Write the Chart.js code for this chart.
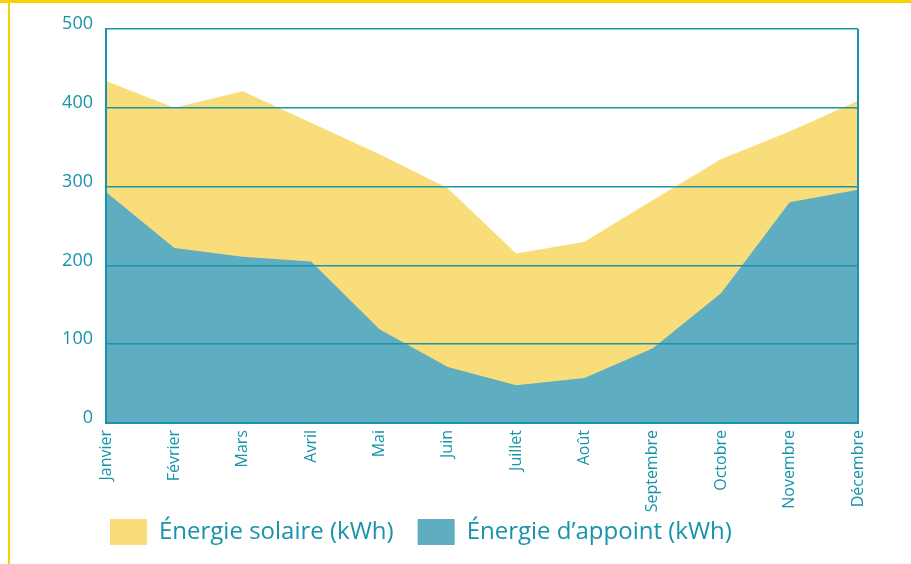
<!DOCTYPE html>
<html>
<head>
<meta charset="utf-8">
<script src="https://cdn.jsdelivr.net/npm/chart.js@4"></script>
<style>
  html, body { margin: 0; padding: 0; background: #fff; }
  #wrap { position: relative; width: 911px; height: 564px; overflow: hidden; }
  #c { position: absolute; left: 0; top: 0; }
  .frameTop { position: absolute; left: 0; top: 0; width: 911px; height: 3px; background: #F6D200; }
  .frameLeft { position: absolute; left: 8px; top: 0; width: 2px; height: 564px; background: #F6D200; }
</style>
</head>
<body>
<div id="wrap">
  <canvas id="c" width="911" height="564"></canvas>
  <div class="frameTop"></div>
  <div class="frameLeft"></div>
</div>
<script>
const months = ["Janvier","Février","Mars","Avril","Mai","Juin","Juillet","Août","Septembre","Octobre","Novembre","Décembre"];
const solaire = [434, 400, 421, 381, 341, 298, 215, 230, 283, 335, 370, 409];
const appoint = [293, 222, 211, 205, 119, 71, 48, 57, 95, 165, 280, 296];
const yTicks = [0, 100, 200, 300, 400, 500];

const TEXT = '#1793AB';
const GRID = '#1A94A8';
const FONT = '"Open Sans", sans-serif';

const shiftLegend = {
  id: 'shiftLegend',
  afterLayout(chart) {
    const lg = chart.legend;
    if (lg) {
      lg.left += 86; lg.right += 86;
      lg.top -= 20; lg.bottom -= 20;
    }
  }
};

new Chart(document.getElementById('c'), {
  type: 'line',
  data: {
    labels: months,
    datasets: [
      { label: 'Énergie solaire (kWh)', data: solaire, fill: 'origin', backgroundColor: '#FADD7B',
        borderWidth: 0, borderColor: 'rgba(0,0,0,0)', pointRadius: 0, tension: 0, order: 1 },
      { label: 'Énergie d\u2019appoint (kWh)', data: appoint, fill: 'origin', backgroundColor: '#5EADC1',
        borderWidth: 0, borderColor: 'rgba(0,0,0,0)', pointRadius: 0, tension: 0, order: 0 }
    ]
  },
  plugins: [shiftLegend],
  options: {
    responsive: false,
    animation: false,
    layout: { padding: { left: 0, right: 53, top: 29, bottom: -11 } },
    plugins: {
      tooltip: { enabled: false },
      legend: {
        position: 'bottom',
        align: 'start',
        labels: {
          sort: (a, b) => a.datasetIndex - b.datasetIndex,
          boxWidth: 37, boxHeight: 26, padding: 24,
          color: TEXT,
          font: { family: FONT, size: 24 }
        }
      }
    },
    scales: {
      x: {
        offset: false,
        border: { display: true, color: GRID, width: 2, z: 1 },
        grid: {
          z: 1,
          drawTicks: false,
          color: (ctx) => (ctx.index === months.length - 1 ? GRID : 'rgba(0,0,0,0)'),
          lineWidth: 2
        },
        ticks: {
          color: TEXT, maxRotation: 90, minRotation: 90, autoSkip: false, padding: 7,
          font: { family: FONT, size: 16 }
        },
        afterFit: (s) => { s.height = 92; }
      },
      y: {
        min: 0, max: 500,
        afterBuildTicks: (s) => { s.ticks = yTicks.map(v => ({ value: v })); },
        border: { display: true, color: GRID, width: 2, z: 1 },
        grid: { z: 1, drawTicks: false, color: GRID, lineWidth: 1.5 },
        ticks: {
          color: TEXT, padding: 13, labelOffset: -5,
          font: { family: FONT, size: 18 }
        },
        afterFit: (s) => { s.width = 106; }
      }
    }
  }
});
</script>
</body>
</html>
